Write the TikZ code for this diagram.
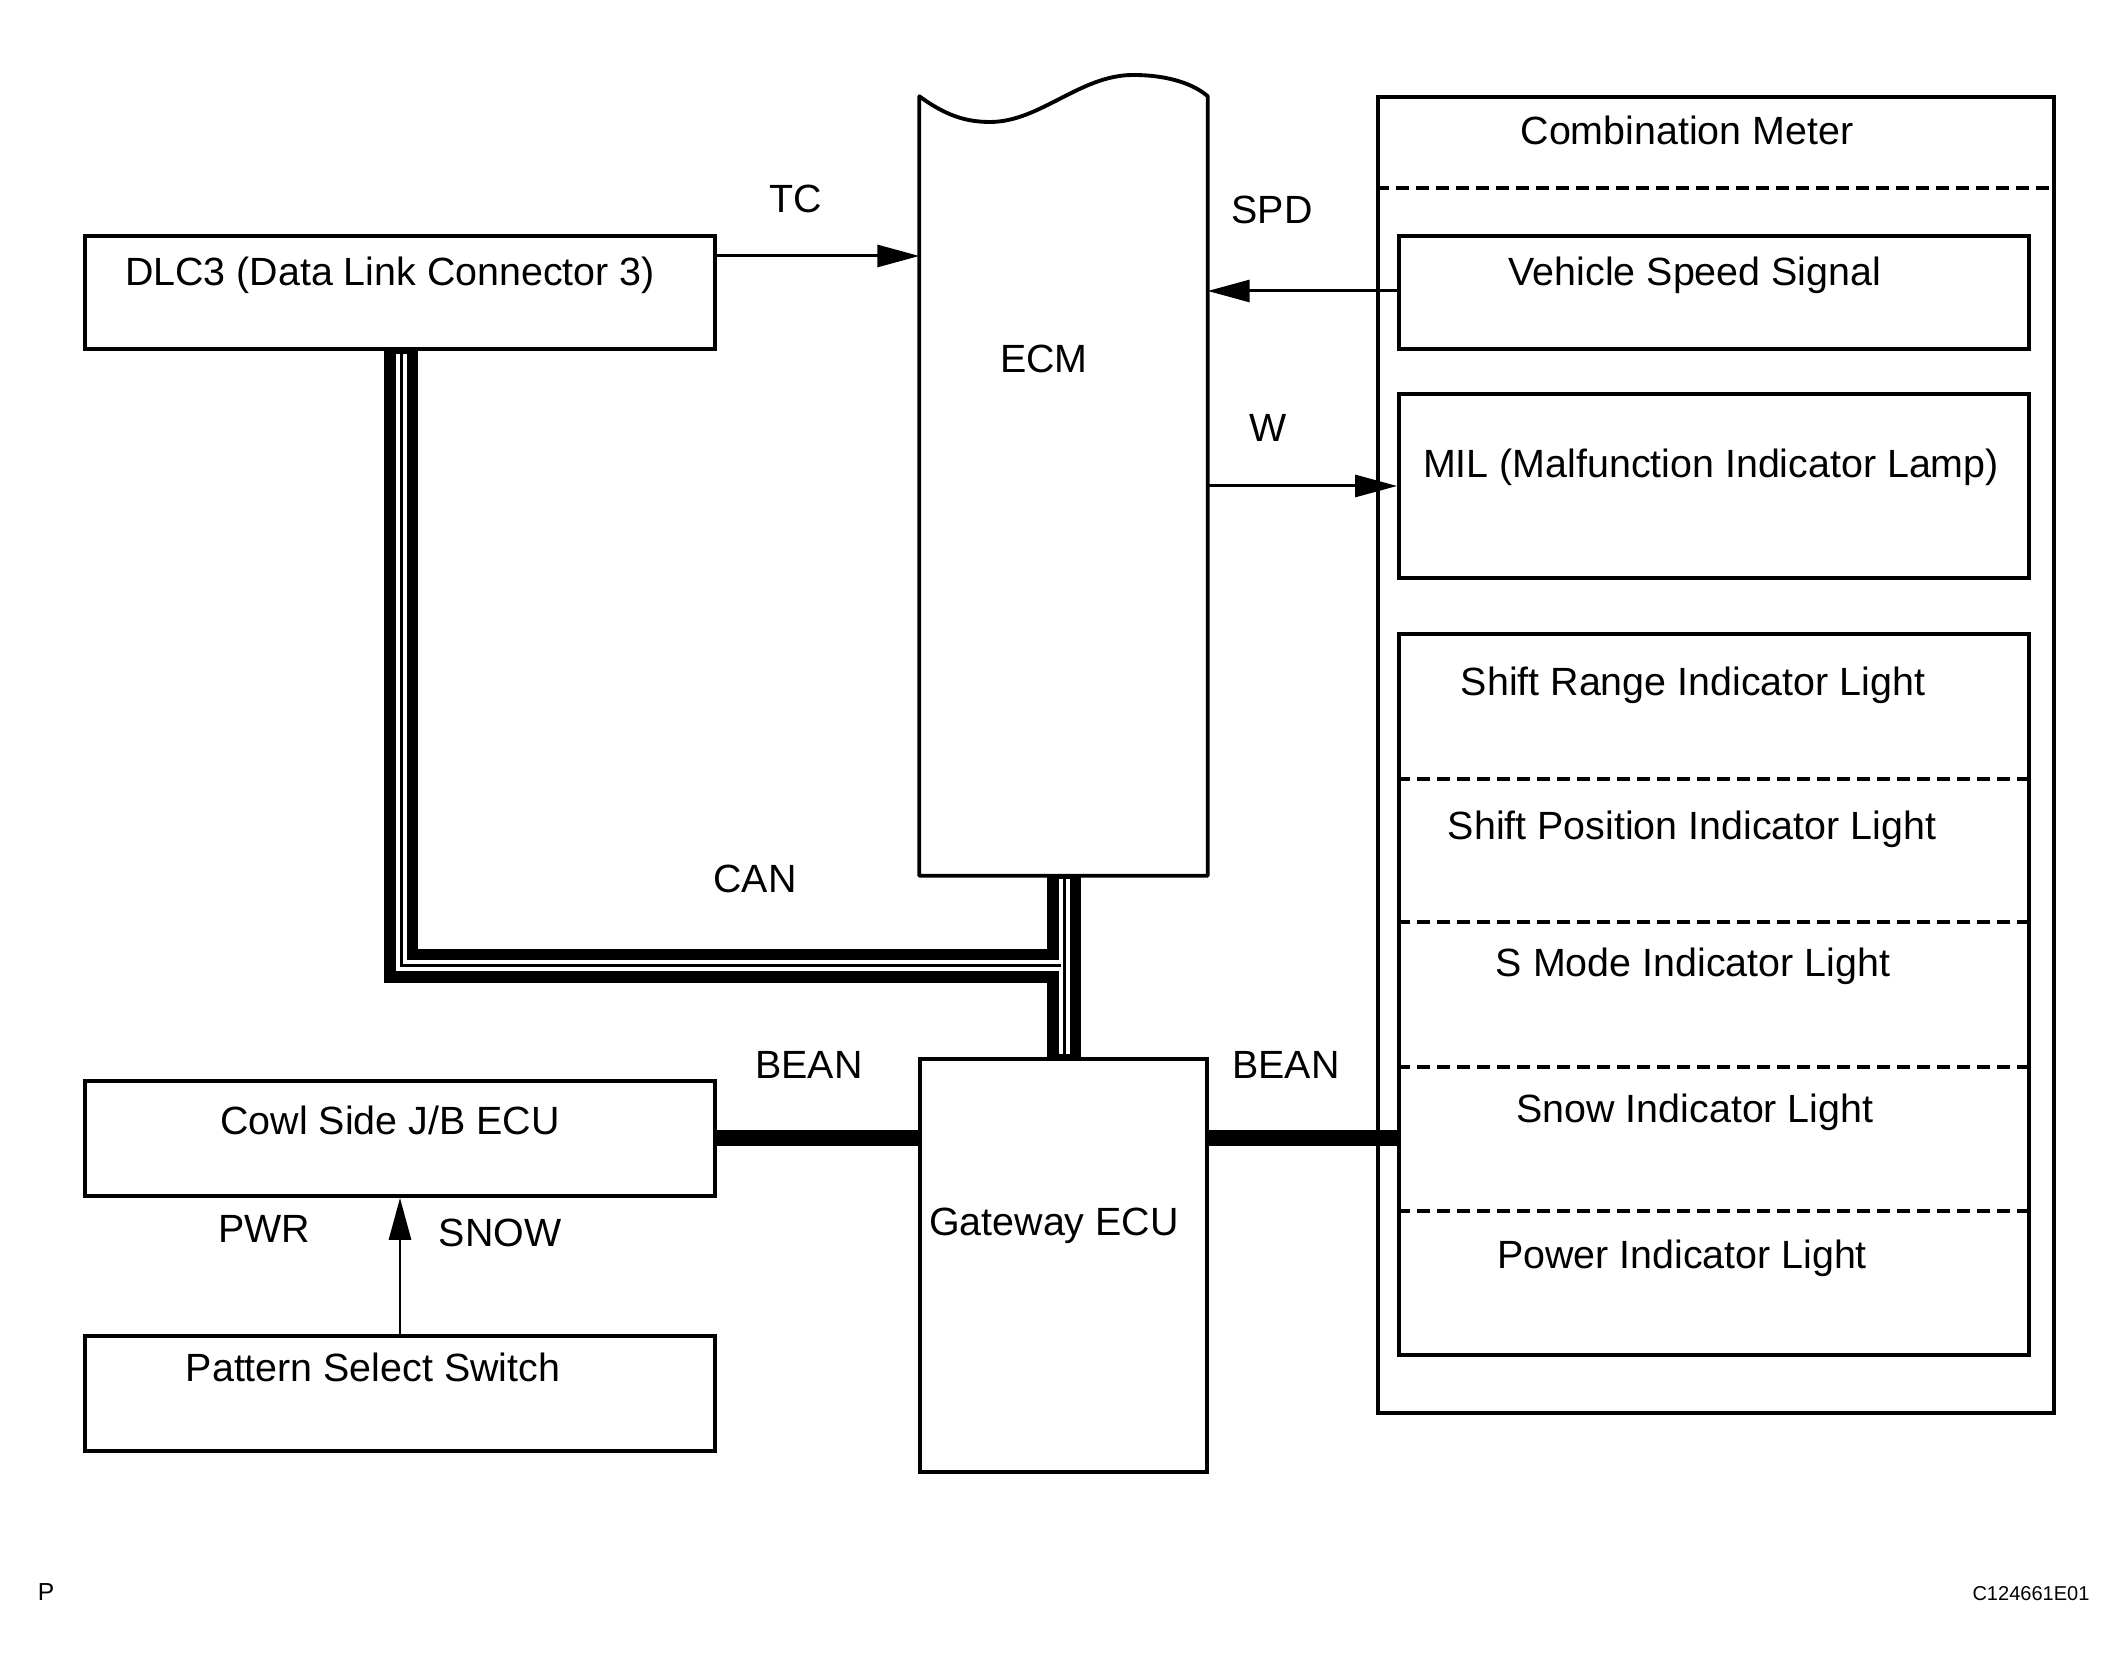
\documentclass[tikz,border=0pt]{standalone}
\usepackage{fontspec}
\setmainfont{Liberation Sans}
\usetikzlibrary{arrows.meta,fit}

\begin{document}
\begin{tikzpicture}[
      x=0.01cm, y=-0.01cm,
      font=\fontsize{11.2}{13.4}\selectfont,
      box/.style={draw, line width=1.1pt, inner sep=0pt},
      frame/.style={inner sep=0pt},
      lbl/.style={inner sep=0pt},
      sig/.style={-{Triangle[length=4.2mm,width=2.2mm]}, line width=0.85pt},
      sep/.style={line width=0.9pt, dash pattern=on 1.3mm off 0.7mm},
      bean/.style={line width=4.3pt},
      canwire/.style={line width=3.4mm, line join=miter},
      cangap/.style={line width=1.1mm, white, line join=miter,
        shorten <=0.3mm, shorten >=0.3mm},
      cancore/.style={line width=0.3mm, line join=miter,
        shorten <=0.3mm, shorten >=0.3mm}
    ]
    \useasboundingbox (0,0) rectangle (2124,1680);

    % units
    \node[box, fit={(85,236)(715,349)}] (dlc) {};
    \node[frame, fit={(920,97)(1207,875)}] (ecm) {};
    \node[box, fit={(920,1059)(1207,1472)}] (gw) {};
    \node[box, fit={(85,1081)(715,1196)}] (cowl) {};
    \node[box, fit={(85,1336)(715,1451)}] (pss) {};

    % combination meter
    \node[box, fit={(1378,97)(2054,1413)}] (meter) {};
    \node[box, fit={(1399,236)(2029,349)}] (vss) {};
    \node[box, fit={(1399,394)(2029,578)}] (mil) {};
    \node[box, fit={(1399,634)(2029,1355)}] (ind) {};
    \draw[sep] (meter.west |- 0,188) -- (meter.east |- 0,188);
    \foreach \y in {779,922,1067,1211}
      \draw[sep] (ind.west |- 0,\y) -- (ind.east |- 0,\y);

    % ECM outline with torn top
    \draw[line width=1.1pt, line join=round]
      (ecm.south west) -- (ecm.north west)
      .. controls (945,115) and (965,122) .. (990,122)
      .. controls (1040,122) and (1080,75) .. (1133,75)
      .. controls (1170,75) and (1195,85) .. (ecm.north east)
      -- (ecm.south east) -- cycle;

    % CAN bus
    \coordinate (canjoin) at (1064,966);
    \foreach \layer in {canwire,cangap,cancore}{
      \draw[\layer] (dlc.south -| 401,0) -- (401,966) -- (canjoin);
      \draw[\layer] (ecm.south -| canjoin) -- (gw.north -| canjoin);
    }

    % BEAN
    \draw[bean] (cowl.east |- 0,1138) -- (gw.west |- 0,1138);
    \draw[bean] (gw.east |- 0,1138) -- (ind.west |- 0,1138);

    % signals
    \draw[sig] (dlc.east |- 0,256) -- (ecm.west |- 0,256);
    \draw[sig] (vss.west |- 0,291) -- (ecm.east |- 0,291);
    \draw[sig] (ecm.east |- 0,486) -- (mil.west |- 0,486);
    \draw[sig] (pss.north) -- (cowl.south);

    % texts
    \node[lbl] (dlctxt) at (390,275) {DLC3 (Data Link Connector 3)};
    \node[lbl] (ecmtxt) at (1044,359) {ECM};
    \node[lbl] (gwtxt) at (1054,1226) {Gateway ECU};
    \node[lbl] (cowltxt) at (390,1120) {Cowl Side J/B ECU};
    \node[lbl] (psstxt) at (373,1367) {Pattern Select Switch};
    \node[lbl] (metertxt) at (1687,130) {Combination Meter};
    \node[lbl] (vsstxt) at (1695,275) {Vehicle Speed Signal};
    \node[lbl] (miltxt) at (1711,467) {MIL (Malfunction Indicator Lamp)};
    \node[lbl] (rangetxt) at (1693,685) {Shift Range Indicator Light};
    \node[lbl] (postxt) at (1692,829) {Shift Position Indicator Light};
    \node[lbl] (smodetxt) at (1693,966) {S Mode Indicator Light};
    \node[lbl] (snowtxt) at (1695,1112) {Snow Indicator Light};
    \node[lbl] (powertxt) at (1682,1258) {Power Indicator Light};

    \node[lbl] (tc) at (796,199) {TC};
    \node[lbl] (spd) at (1272,210) {SPD};
    \node[lbl] (w) at (1268,428) {W};
    \node[lbl] (can) at (755,879) {CAN};
    \node[lbl] (beanl) at (809,1065) {BEAN};
    \node[lbl] (beanr) at (1286,1065) {BEAN};
    \node[lbl] (pwr) at (264,1229) {PWR};
    \node[lbl] (snow) at (500,1233) {SNOW};

    \node[lbl, font=\fontsize{7}{8}\selectfont] (pmark) at (46,1592) {P};
    \node[lbl, font=\fontsize{5.7}{7}\selectfont] (code) at (2031,1594) {C124661E01};
  \end{tikzpicture}
\end{document}
